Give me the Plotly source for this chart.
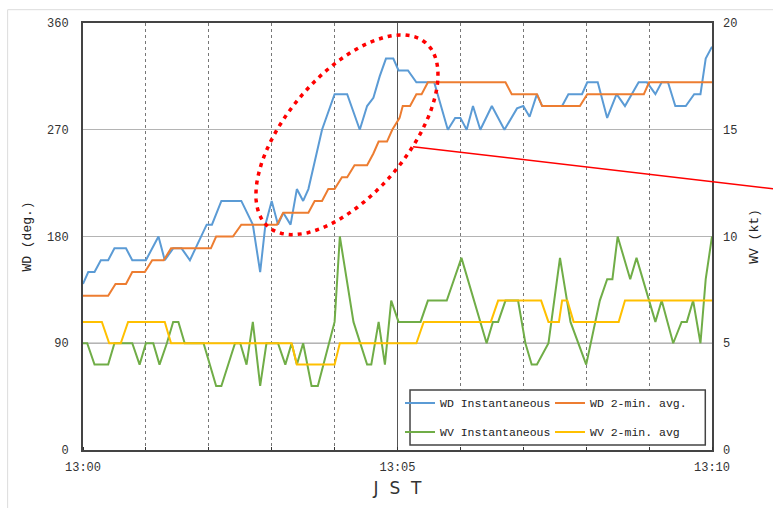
import numpy as np
import plotly.graph_objects as go

# ---- data (time in seconds after 13:00) ----
wd_inst_t = [0, 5, 11, 17, 24, 30, 41, 47, 60, 72, 78, 86, 94, 102, 118, 123, 132, 151, 162, 169,
             174, 180, 186, 191, 198, 204, 210, 215, 221, 228, 236, 240, 252, 264, 271, 277, 283,
             289, 296, 301, 310, 318, 335, 348, 355, 360, 366, 372, 379, 390, 402, 414, 420, 426,
             433, 438, 457, 463, 476, 481, 491, 500, 509, 517, 530, 538, 546, 552, 558, 565, 575,
             583, 589, 594, 600]
wd_inst = [140, 150, 150, 160, 160, 170, 170, 160, 160, 180, 160, 170, 170, 160, 190, 190, 210, 210, 190, 150,
           190, 210, 190, 200, 190, 220, 210, 220, 243, 270, 290, 300, 300, 270, 290, 297, 315,
           330, 330, 320, 320, 310, 310, 270, 280, 280, 270, 290, 270, 290, 270, 288, 290, 281,
           300, 290, 290, 300, 300, 310, 310, 280, 300, 290, 310, 310, 300, 310, 310, 290, 290,
           300, 300, 330, 340]

wd_avg_t = [0, 24, 31, 41, 47, 59, 66, 77, 84, 122, 127, 143, 151, 185, 191, 215, 221, 228, 234, 240,
            247, 252, 259, 271, 277, 282, 290, 295, 302, 305, 312, 318, 323, 329, 403, 409, 433,
            438, 474, 481, 535, 540, 600]
wd_avg = [130, 130, 140, 140, 150, 150, 160, 160, 170, 170, 180, 180, 190, 190, 200, 200, 210, 210, 220, 220,
          230, 230, 240, 240, 250, 260, 260, 270, 280, 290, 290, 300, 300, 310, 310, 300, 300,
          290, 290, 300, 300, 310, 310]

wv_inst_t = [0, 4, 11, 24, 30, 47, 54, 60, 67, 73, 80, 86, 91, 97, 115, 127, 132, 145, 150, 156,
             162, 169, 175, 186, 193, 199, 204, 210, 218, 224, 240, 245, 258, 271, 275, 282, 288,
             294, 301, 322, 329, 347, 361, 385, 391, 396, 403, 415, 422, 428, 433, 444, 455, 465,
             480, 493, 500, 505, 510, 522, 528, 540, 546, 552, 563, 571, 576, 582, 589, 594, 600]
wv_inst = [5, 5, 4, 4, 5, 5, 4, 5, 5, 4, 5, 6, 6, 5, 5, 3, 3, 5, 5, 4,
           6, 3, 5, 5, 4, 5, 4, 5, 3, 3, 6, 10, 6, 4, 4, 6, 4,
           7, 6, 6, 7, 7, 9, 5, 6, 6, 7, 7, 5, 4, 4, 5, 9, 6,
           4, 7, 8, 8, 10, 8, 9, 7, 6, 7, 5, 6, 6, 7, 5, 8, 10]

wv_avg_t = [0, 18, 25, 36, 43, 78, 84, 199, 204, 240, 245, 318, 325, 389, 396, 437, 444, 454,
            457, 462, 468, 511, 517, 600]
wv_avg = [6, 6, 5, 5, 6, 6, 5, 5, 4, 4, 5, 5, 6, 6, 7, 7, 6, 6,
          7, 7, 6, 6, 7, 7]

x_tickvals = [0, 300, 600]
x_ticktext = ["13:00", "13:05", "13:10"]
wd_ticks = [0, 90, 180, 270, 360]
wv_ticks = [0, 5, 10, 15, 20]

MONO = "Liberation Mono"

fig = go.Figure()
fig.add_trace(go.Scatter(x=wd_inst_t, y=wd_inst, mode="lines", name="WD Instantaneous",
                         line=dict(color="#5B9BD5", width=2), legend="legend"))
fig.add_trace(go.Scatter(x=wd_avg_t, y=wd_avg, mode="lines", name="WD 2-min. avg.",
                         line=dict(color="#ED7D31", width=2), legend="legend"))
fig.add_trace(go.Scatter(x=wv_inst_t, y=wv_inst, mode="lines", name="WV Instantaneous",
                         line=dict(color="#70AD47", width=2), yaxis="y2", legend="legend2"))
fig.add_trace(go.Scatter(x=wv_avg_t, y=wv_avg, mode="lines", name="WV 2-min. avg",
                         line=dict(color="#FFC000", width=2), yaxis="y2", legend="legend2"))

# plot-area geometry in pixels (for annotation shapes)
L, R, T, B = 83.3, 711.7, 23.3, 450.0
W, H = R - L, B - T


def px2paper(px, py):
    return (px - L) / W, (B - py) / H


# red dotted ellipse (tilted)
cx, cy, a, b, th = 347, 135, 121, 60, np.deg2rad(49.4)
phi = np.linspace(0, 2 * np.pi, 90)
ex = cx + a * np.cos(phi) * np.cos(th) - b * np.sin(phi) * np.sin(th)
ey = cy - (a * np.cos(phi) * np.sin(th) + b * np.sin(phi) * np.cos(th))
pts = [px2paper(u, v) for u, v in zip(ex, ey)]
path = "M " + " L ".join(f"{u:.4f},{v:.4f}" for u, v in pts) + " Z"

lx0, ly0 = px2paper(413, 147)
lx1, ly1 = px2paper(773, 189)
fx0, fy0 = px2paper(8, 520)
fx1, fy1 = px2paper(790, 10)
bx0, by0 = px2paper(410, 445)
bx1, by1 = px2paper(705, 390)

shapes = [
    dict(type="rect", xref="paper", yref="paper", x0=fx0, y0=fy0, x1=fx1, y1=fy1,
         line=dict(color="#dcdcdc", width=1), layer="below"),
    dict(type="line", xref="paper", yref="y", x0=0, x1=1, y0=90, y1=90,
         line=dict(color="#555555", width=1.2), layer="between"),
    dict(type="line", xref="paper", yref="y", x0=0, x1=1, y0=180, y1=180,
         line=dict(color="#555555", width=1.2), layer="between"),
    dict(type="rect", xref="paper", yref="paper", x0=bx0, y0=by0, x1=bx1, y1=by1,
         line=dict(color="#444444", width=1.5), fillcolor="white", layer="above"),
    dict(type="path", xref="paper", yref="paper", path=path,
         line=dict(color="#FF0000", width=3.5, dash="4px,5px"), layer="above"),
    dict(type="line", xref="paper", yref="paper", x0=lx0, y0=ly0, x1=lx1, y1=ly1,
         line=dict(color="#FF0000", width=1.5), layer="above"),
]

legend_common = dict(orientation="h", xanchor="left", yanchor="middle",
                     entrywidth=105, entrywidthmode="pixels",
                     bgcolor="rgba(0,0,0,0)", borderwidth=0,
                     font=dict(family=MONO, size=11.5, color="#222"))

leg_x = (400 - L) / W

fig.update_layout(
    width=773, height=508,
    margin=dict(l=L, r=773 - R, t=T, b=508 - B, autoexpand=False),
    paper_bgcolor="white", plot_bgcolor="white",
    showlegend=True,
    legend=dict(x=leg_x, y=(B - 403) / H, **legend_common),
    legend2=dict(x=leg_x, y=(B - 432) / H, **legend_common),
    shapes=shapes,
    xaxis=dict(range=[0, 600], tickmode="array", tickvals=x_tickvals, ticktext=x_ticktext,
               automargin=False,
               showgrid=True, gridcolor="#555555", gridwidth=1.2,
               showline=True, linecolor="#444444", linewidth=2, mirror=True,
               ticks="", zeroline=False, ticklabelstandoff=5,
               tickfont=dict(family=MONO, size=12, color="#333"),
               minor=dict(tickmode="linear", tick0=0, dtick=60, showgrid=True,
                          gridcolor="#777777", gridwidth=1.3, griddash="dot",
                          ticks="inside", ticklen=3, tickcolor="#333"),
               title=dict(text="J\u00a0\u00a0S\u00a0\u00a0T",
                          font=dict(family="DejaVu Sans", size=17, color="#333"),
                          standoff=8)),
    yaxis=dict(range=[0, 360], tickmode="array", tickvals=wd_ticks, automargin=False,
               showgrid=True, gridcolor="#b4b4b4", gridwidth=1.2,
               showline=True, linecolor="#444444", linewidth=2, mirror=True,
               ticks="", zeroline=False, ticklabelstandoff=10,
               tickfont=dict(family=MONO, size=12, color="#333"),
               title=dict(text="WD (deg.)", font=dict(family=MONO, size=13, color="#222"),
                          standoff=12)),
    yaxis2=dict(range=[0, 20], tickmode="array", tickvals=wv_ticks, overlaying="y", side="right",
                automargin=False,
                showgrid=False, showline=False, ticks="", zeroline=False, ticklabelstandoff=10,
                tickfont=dict(family=MONO, size=12, color="#333"),
                title=dict(text="WV (kt)", font=dict(family=MONO, size=13, color="#222"),
                           standoff=12)),
)

fig.write_html("out.html", config={"displayModeBar": False},
               post_script="document.body.style.margin='0';document.body.style.overflow='hidden';")
